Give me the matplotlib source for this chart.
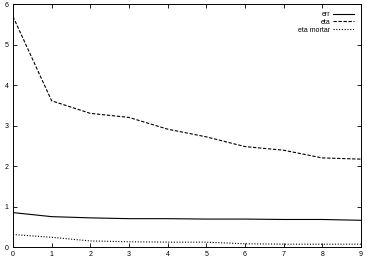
import matplotlib
matplotlib.use("Agg")
import matplotlib.pyplot as plt

steps = list(range(10))
err = [0.85, 0.75, 0.72, 0.70, 0.70, 0.69, 0.69, 0.68, 0.68, 0.66]
eta = [5.69, 3.61, 3.30, 3.20, 2.91, 2.72, 2.48, 2.39, 2.20, 2.17]
eta_mortar = [0.31, 0.24, 0.15, 0.13, 0.12, 0.12, 0.08, 0.07, 0.07, 0.07]

plt.rcParams['font.family'] = ['Liberation Sans', 'DejaVu Sans']

fig = plt.figure(figsize=(3.66, 2.76), dpi=100)
ax = fig.add_axes([0.0355, 0.105, 0.9505, 0.8805])

ax.plot(steps, err, color='black', lw=0.8, label='err')
ax.plot(steps, eta, color='black', lw=0.8, ls=(0, (3, 1.5)), label='eta')
ax.plot(steps, eta_mortar, color='black', lw=0.8, ls=(0, (1, 1.5)), label='eta mortar')

ax.set_xlim(0, 9)
ax.set_ylim(0, 6)
ax.set_xticks(range(10))
ax.set_yticks(range(7))
ax.tick_params(direction='in', length=3, width=0.6, labelsize=5, pad=3,
               top=True, right=True)
for s in ax.spines.values():
    s.set_linewidth(0.7)

leg = ax.legend(loc='upper right', frameon=False, fontsize=5, markerfirst=False,
                handlelength=3.0, handletextpad=0.4, labelspacing=0.12,
                borderaxespad=0.7, borderpad=0.3)
for t in leg.get_texts():
    t.set_ha('right')
leg._legend_box.align = 'right'

fig.savefig('out.png', dpi=100)
